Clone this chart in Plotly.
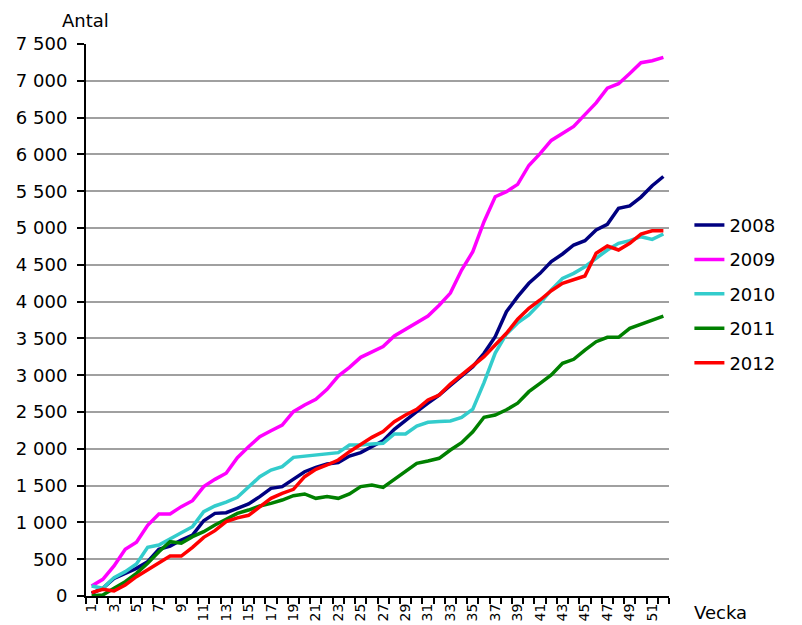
import plotly.graph_objects as go

weeks = list(range(1, 53))
years = ["2008", "2009", "2010", "2011", "2012"]

v2008 = [36, 105, 240, 308, 376, 466, 634, 679, 761, 829, 1023, 1123, 1132, 1191, 1250, 1350,
         1463, 1486, 1585, 1689, 1748, 1793, 1812, 1902, 1948, 2029, 2110, 2264, 2390, 2504,
         2620, 2731, 2860, 2990, 3116, 3297, 3523, 3863, 4067, 4249, 4384, 4543, 4647, 4769,
         4828, 4973, 5050, 5267, 5300, 5420, 5575, 5700]
v2009 = [136, 227, 408, 634, 730, 960, 1114, 1114, 1214, 1295, 1486, 1585, 1668, 1880, 2029,
         2165, 2246, 2323, 2504, 2595, 2672, 2808, 2989, 3107, 3243, 3320, 3388, 3533, 3620,
         3720, 3804, 3950, 4116, 4429, 4678, 5086, 5425, 5493, 5593, 5850, 6010, 6190, 6290,
         6380, 6540, 6700, 6900, 6960, 7100, 7246, 7273, 7319]
v2010 = [136, 105, 250, 331, 435, 661, 693, 770, 860, 942, 1146, 1223, 1275, 1340, 1486, 1621,
         1712, 1757, 1884, 1902, 1920, 1938, 1948, 2052, 2052, 2066, 2074, 2201, 2201, 2310,
         2360, 2372, 2378, 2428, 2540, 2900, 3300, 3560, 3710, 3818, 3977, 4158, 4316, 4384,
         4474, 4588, 4701, 4792, 4828, 4882, 4846, 4918]
v2011 = [5, 14, 104, 195, 308, 444, 602, 738, 716, 806, 874, 965, 1042, 1123, 1168, 1223,
         1259, 1304, 1363, 1386, 1327, 1350, 1327, 1386, 1486, 1508, 1476, 1585, 1680, 1803,
         1835, 1871, 1984, 2083, 2232, 2428, 2459, 2530, 2620, 2776, 2890, 3003, 3162, 3216,
         3342, 3455, 3515, 3515, 3637, 3696, 3750, 3804]
v2012 = [45, 91, 68, 150, 263, 353, 444, 543, 543, 661, 797, 888, 1010, 1062, 1096, 1214,
         1327, 1395, 1449, 1621, 1721, 1780, 1848, 1961, 2065, 2156, 2233, 2368, 2460, 2536,
         2663, 2731, 2880, 3000, 3120, 3251, 3410, 3569, 3760, 3909, 4022, 4148, 4249, 4293,
         4348, 4656, 4755, 4701, 4792, 4918, 4963, 4963]

series = [v2008, v2009, v2010, v2011, v2012]
colors = ["#000080", "#FF00FF", "#33CCCC", "#008000", "#FF0000"]

x_tick_vals = list(range(1, 53, 2))
x_tick_text = [str(w) for w in x_tick_vals]
y_tick_vals = list(range(0, 7501, 500))

FONT = "DejaVu Sans, Liberation Sans, Arial, sans-serif"

fig = go.Figure()
for name, vals, col in zip(years, series, colors):
    fig.add_trace(go.Scatter(x=weeks, y=vals, mode="lines", name=name, legendgroup=name,
                             line=dict(color=col, width=3.5)))

# page body has an 8px default margin, so the figure is 8px smaller than the window
fig.update_layout(
    width=794, height=617,
    margin=dict(l=78, r=133, t=36, b=29, autoexpand=False),
    paper_bgcolor="white", plot_bgcolor="white",
    separators=", ",
    font=dict(family=FONT, size=18, color="black"),
    showlegend=True,
    legend=dict(x=1.035, y=0.705, xanchor="left", yanchor="top",
                font=dict(family=FONT, size=18, color="black"),
                tracegroupgap=8, bgcolor="rgba(0,0,0,0)"),
    xaxis=dict(range=[0.5, 52.5], tickmode="array", tickvals=x_tick_vals, ticktext=x_tick_text,
               tickangle=-90, tickfont=dict(family=FONT, size=14, color="black"),
               ticks="", showgrid=False, showline=True, linecolor="black", linewidth=2,
               zeroline=False, automargin=False,
               minor=dict(tickmode="linear", tick0=0.5, dtick=1, ticks="outside", ticklen=6,
                          tickcolor="black", tickwidth=1.5, showgrid=False)),
    yaxis=dict(range=[0, 7500], tickmode="array", tickvals=y_tick_vals, tickformat=",d",
               ticks="outside", ticklen=7, tickcolor="black", tickwidth=1.5,
               ticklabelstandoff=6,
               showgrid=True, gridcolor="#A0A0A0", gridwidth=1.5, automargin=False,
               showline=True, linecolor="black", linewidth=2, zeroline=False,
               tickfont=dict(family=FONT, size=18, color="black")),
    annotations=[
        dict(text="Antal", xref="paper", yref="paper", x=-0.045, y=1.0, yshift=24,
             xanchor="left", yanchor="middle", showarrow=False,
             font=dict(family=FONT, size=18, color="black")),
        dict(text="Vecka", xref="paper", yref="paper", x=1.04, y=0, yshift=-16,
             xanchor="left", yanchor="middle", showarrow=False,
             font=dict(family=FONT, size=18, color="black")),
    ],
)

fig.write_html("out.html")
